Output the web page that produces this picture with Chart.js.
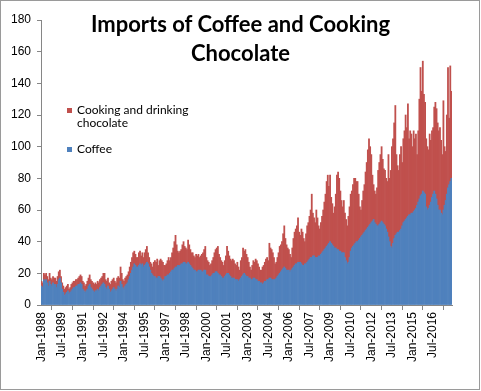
<!DOCTYPE html>
<html>
<head>
<meta charset="utf-8">
<script src="https://cdn.jsdelivr.net/npm/chart.js@4/dist/chart.umd.min.js"></script>
<style>
  body { margin: 0; background: #fff; }
  #wrap { position: relative; width: 481px; height: 391px; }
  #frame { position: absolute; left: 0; top: 0; width: 480px; height: 390px; box-sizing: border-box; border: 1px solid #9a9a9a; pointer-events: none; }
  #title { position: absolute; left: 0; width: 481px; top: 9px; text-align: center; font-family: Lato, "Open Sans", sans-serif; font-weight: bold; font-size: 22px; line-height: 29px; color: #000; }
  .leg { position: absolute; left: 67px; font-family: Lato, "Open Sans", sans-serif; font-size: 12px; line-height: 13px; color: #000; }
  .leg i { position: absolute; left: 0; width: 5px; height: 5px; }
  .leg span { position: absolute; left: 10px; white-space: nowrap; }
</style>
</head>
<body>
<div id="wrap">
  <canvas id="myChart" width="481" height="391"></canvas>
  <div id="title">Imports of Coffee and Cooking<br>Chocolate</div>
  <div class="leg" style="top:103px"><i style="top:5px;background:#C0504D"></i><span>Cooking and drinking<br>chocolate</span></div>
  <div class="leg" style="top:142px"><i style="top:5px;background:#4F81BD"></i><span>Coffee</span></div>
  <div id="frame"></div>
</div>
<script>
// monthly imports, Jan 1988 - Nov 2017
var coffee = [
  12,11,16,15,16,14,12,15,13,12,14,13, // 1988
  13,11,13,16,17,14,10,8,6,7,8,9,      // 1989
  7,8,9,10,11,11,12,12,13,13,14,13,    // 1990
  10,9,8,9,10,12,13,11,10,9,8,9,       // 1991
  9,10,9,11,12,13,14,13,11,10,12,10,   // 1992
  8,9,10,11,10,9,10,12,11,15,13,11,    // 1993
  10,12,13,14,16,18,20,22,24,26,25,24, // 1994
  24,25,26,25,26,24,25,26,27,26,24,22, // 1995
  20,19,18,18,17,17,18,18,17,16,15,16, // 1996
  18,18,19,19,20,21,22,22,23,24,24,25, // 1997
  25,25,26,26,27,27,26,26,27,26,25,24, // 1998
  23,22,22,21,21,22,22,22,21,21,22,22, // 1999
  19,19,18,18,18,19,20,20,21,21,20,19, // 2000
  19,18,17,17,18,19,20,20,19,18,17,17, // 2001
  17,16,16,16,15,16,17,18,19,20,19,18, // 2002
  18,17,17,16,16,17,17,16,16,15,15,14, // 2003
  14,13,14,15,15,16,16,17,17,16,16,16, // 2004
  16,17,18,19,20,21,22,23,24,23,22,22, // 2005
  22,21,22,23,24,25,26,26,27,27,27,26, // 2006
  25,25,26,26,27,28,29,30,30,31,31,30, // 2007
  30,30,31,31,32,33,34,35,36,37,38,39, // 2008
  40,39,38,37,36,36,35,35,34,34,33,33, // 2009
  33,30,28,26,27,30,34,36,37,38,39,40, // 2010
  40,41,42,43,44,45,46,47,48,49,50,51, // 2011
  52,53,54,52,51,50,50,51,52,53,52,51, // 2012
  50,48,46,43,40,37,36,39,42,44,45,46, // 2013
  46,47,48,50,52,53,54,55,56,57,57,58, // 2014
  58,59,60,61,63,65,67,69,70,72,71,70, // 2015
  62,60,61,63,65,68,70,72,70,67,63,60, // 2016
  60,58,57,60,63,66,70,74,76,78,80     // 2017
];

var chocolate = [
  3,3,4,4,4,4,4,5,4,4,4,4,             // 1988
  4,4,5,5,5,4,4,4,4,4,4,4,             // 1989
  3,3,4,4,4,4,4,4,4,5,5,5,             // 1990
  5,5,4,4,5,5,6,5,5,5,5,5,             // 1991
  4,5,5,5,5,5,6,7,5,5,5,4,             // 1992
  5,6,6,6,5,5,7,6,6,9,7,5,             // 1993
  5,5,5,5,5,6,7,8,9,8,7,6,             // 1994
  6,8,8,6,7,6,8,9,10,7,6,5,            // 1995
  6,5,9,10,10,12,7,10,12,12,12,9,      // 1996
  7,8,9,11,8,9,11,14,17,20,14,9,       // 1997
  8,9,9,12,13,10,10,9,14,12,10,9,      // 1998
  10,9,8,11,10,10,8,9,11,12,13,15,     // 1999
  11,9,9,7,8,9,10,13,14,15,17,13,      // 2000
  11,10,10,8,10,12,17,14,12,11,11,12,  // 2001
  11,10,9,11,9,6,11,12,17,14,16,14,    // 2002
  12,10,7,6,9,11,10,13,12,11,9,8,      // 2003
  8,11,11,12,14,14,12,22,19,19,17,14,  // 2004
  10,10,12,14,17,17,18,22,26,19,16,14, // 2005
  13,11,8,13,18,21,22,24,28,19,17,22,  // 2006
  21,17,14,19,23,24,27,30,40,27,24,22, // 2007
  30,25,19,17,20,23,26,30,34,41,44,36, // 2008
  42,29,26,21,26,34,47,49,46,38,33,29, // 2009
  33,28,26,24,29,32,36,36,39,42,41,38, // 2010
  38,29,20,17,22,27,30,37,42,49,55,49, // 2011
  43,29,22,20,19,24,35,39,43,47,40,35, // 2012
  35,32,32,52,40,48,64,66,73,82,50,42, // 2013
  39,48,52,40,53,57,66,57,71,48,53,50, // 2014
  42,51,45,47,32,45,63,81,65,82,62,58, // 2015
  43,40,37,45,39,42,42,53,58,57,52,50, // 2016
  52,46,38,69,37,31,50,76,42,73,55     // 2017
];

var monthNames = ['Jan','Feb','Mar','Apr','May','Jun','Jul','Aug','Sep','Oct','Nov','Dec'];
var firstYear = 1988;
var yTicks = [0, 20, 40, 60, 80, 100, 120, 140, 160, 180];

var labels = [];
for (var i = 0; i < coffee.length; i++) {
  labels.push(monthNames[i % 12] + '-' + (firstYear + Math.floor(i / 12)));
}

var axisColor = '#868686';
var tickFont = { family: 'Liberation Sans, Arial, sans-serif', size: 12 };

var ctx = document.getElementById('myChart').getContext('2d');
var myChart = new Chart(ctx, {
  type: 'bar',
  data: {
    labels: labels,
    datasets: [
      { label: 'Coffee', data: coffee, backgroundColor: '#4F81BD', borderWidth: 0,
        barPercentage: 1, categoryPercentage: 1 },
      { label: 'Cooking and drinking chocolate', data: chocolate, backgroundColor: '#C0504D', borderWidth: 0,
        barPercentage: 1, categoryPercentage: 1 }
    ]
  },
  options: {
    responsive: false,
    animation: false,
    layout: { padding: { top: 20, right: 29, left: 0, bottom: 0 } },
    plugins: {
      legend: { display: false },
      title: { display: false },
      tooltip: { enabled: false }
    },
    scales: {
      x: {
        stacked: true,
        border: { color: axisColor },
        grid: { drawOnChartArea: false, drawTicks: true, tickLength: 5, color: axisColor },
        ticks: {
          autoSkip: false, maxRotation: 90, minRotation: 90, padding: 2,
          color: '#000', font: tickFont,
          callback: function (v, i) { return i % 18 === 0 ? labels[i] : null; }
        },
        afterFit: function (scale) { scale.height = 86; }
      },
      y: {
        stacked: true,
        min: 0, max: 180,
        border: { color: axisColor },
        grid: { drawOnChartArea: false, drawTicks: true, tickLength: 4, color: axisColor },
        ticks: {
          stepSize: 20, padding: 6, color: '#000', font: tickFont,
          callback: function (v) { return yTicks.indexOf(v) >= 0 ? v : null; }
        },
        afterFit: function (scale) { scale.width = 41; }
      }
    }
  }
});
</script>
</body>
</html>
